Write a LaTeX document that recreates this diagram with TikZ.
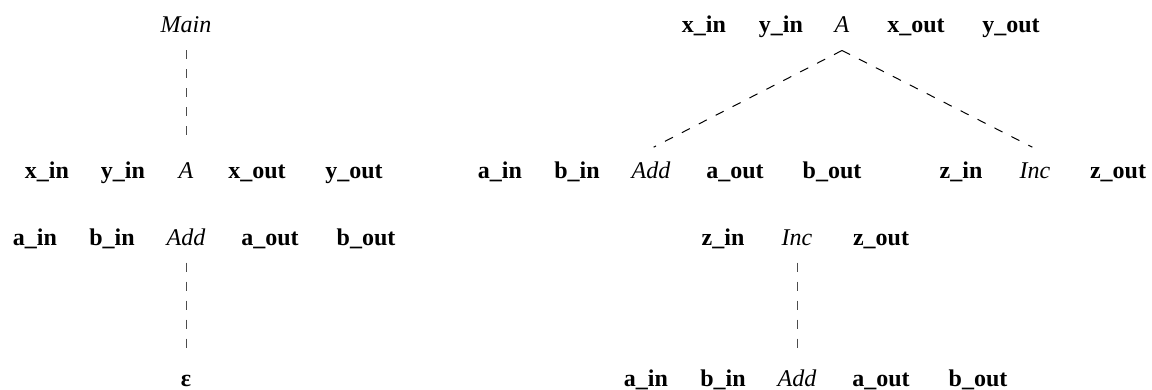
\documentclass[tikz,border=0pt]{standalone}
\usepackage{fontspec}
\setmainfont{Liberation Serif}
\usepackage{tikz}
\usetikzlibrary{arrows}

\begin{document}
\begin{tikzpicture}[x=0.5pt,y=-0.5pt,dash pattern=on 4.5pt off 5pt,line width=0.5pt]
      \tikzstyle{every node}=[inner sep=6pt,text height=8.5pt,text depth=2.5pt,font=\fontsize{12}{14}\selectfont]
      \tikzstyle{port}=[font=\fontsize{12}{14}\selectfont\bfseries]
      \tikzstyle{comp}=[font=\fontsize{12}{14}\selectfont\itshape]

      \useasboundingbox (0,0) rectangle (1152,390);

      % left tree
      \node[comp] (main) at (186,27) {Main};

      \node[port] (lxin) at (47,172) {x\_in};
      \node[port] (lyin) at (123,172) {y\_in};
      \node[comp] (la) at (186,172) {A};
      \node[port] (lxout) at (257,172) {x\_out};
      \node[port] (lyout) at (354,172) {y\_out};

      \node[port] (lain) at (35,239) {a\_in};
      \node[port] (lbin) at (112,239) {b\_in};
      \node[comp] (ladd) at (186,239) {Add};
      \node[port] (laout) at (270,239) {a\_out};
      \node[port] (lbout) at (366,239) {b\_out};

      \node[port] (eps) at (186,380) {ε};

      % right tree
      \node[port] (rxin) at (704,27) {x\_in};
      \node[port] (ryin) at (781,27) {y\_in};
      \node[comp] (ra) at (842,27) {A};
      \node[port] (rxout) at (916,27) {x\_out};
      \node[port] (ryout) at (1011,27) {y\_out};

      \node[port] (rain) at (500,172) {a\_in};
      \node[port] (rbin) at (577,172) {b\_in};
      \node[comp] (radd) at (651,172) {Add};
      \node[port] (raout) at (735,172) {a\_out};
      \node[port] (rbout) at (832,172) {b\_out};
      \node[port] (rzin) at (961,172) {z\_in};
      \node[comp] (rinc) at (1035,172) {Inc};
      \node[port] (rzout) at (1118,172) {z\_out};

      \node[port] (szin) at (723,239) {z\_in};
      \node[comp] (sinc) at (797,239) {Inc};
      \node[port] (szout) at (881,239) {z\_out};

      \node[port] (tain) at (646,380) {a\_in};
      \node[port] (tbin) at (723,380) {b\_in};
      \node[comp] (tadd) at (797,380) {Add};
      \node[port] (taout) at (881,380) {a\_out};
      \node[port] (tbout) at (978,380) {b\_out};

      \draw[black!70,shorten >=1.5pt] (main) -- (la);
      \draw[black!70] (ladd) -- (eps);

      \draw[shorten >=1.5pt] (ra.south) -- (radd.north);
      \draw[shorten >=1.5pt] (ra.south) -- (rinc.north);

      \draw[black!70] (sinc) -- (tadd);

    \end{tikzpicture}
\end{document}
